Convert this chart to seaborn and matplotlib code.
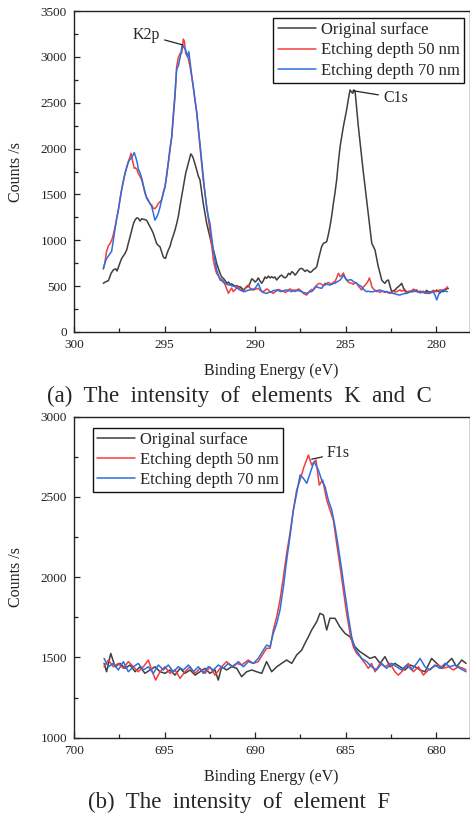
import numpy as np
import pandas as pd
import matplotlib
matplotlib.use("Agg")
import matplotlib.pyplot as plt
import seaborn as sns
from matplotlib.ticker import MultipleLocator

# ---------------- DATA: panel (a) K2p / C1s ----------------
series_names = ["Original surface", "Etching depth 50 nm", "Etching depth 70 nm"]

a_orig_E = [298.38, 298.25, 298.1, 297.95, 297.83, 297.7, 297.62, 297.45, 297.37, 297.18, 297.08, 297.0,
            296.9, 296.81, 296.72, 296.63, 296.53, 296.45, 296.35, 296.26, 296.15, 296.05, 295.98, 295.9,
            295.8, 295.7, 295.62, 295.53, 295.44, 295.35, 295.25, 295.15, 295.07, 295.0, 294.94, 294.87,
            294.79, 294.7, 294.6, 294.5, 294.42, 294.33, 294.24, 294.13, 294.02, 293.92, 293.83, 293.75,
            293.68, 293.6, 293.55, 293.48, 293.41, 293.3, 293.22, 293.13, 293.04, 292.95, 292.86, 292.76,
            292.67, 292.58, 292.49, 292.4, 292.3, 292.2, 292.12, 292.02, 291.93, 291.84, 291.75, 291.65,
            291.56, 291.47, 291.38, 291.3, 291.2, 291.1, 291.0, 290.92, 290.83, 290.74, 290.64, 290.55,
            290.46, 290.37, 290.28, 290.18, 290.09, 290.0, 289.91, 289.82, 289.72, 289.63, 289.54, 289.45,
            289.36, 289.26, 289.17, 289.08, 288.99, 288.9, 288.8, 288.71, 288.62, 288.53, 288.43, 288.34,
            288.25, 288.15, 288.06, 287.97, 287.88, 287.79, 287.7, 287.6, 287.51, 287.42, 287.33, 287.24,
            287.14, 287.05, 286.96, 286.87, 286.78, 286.69, 286.59, 286.5, 286.41, 286.32, 286.22, 286.13,
            286.04, 285.95, 285.86, 285.76, 285.67, 285.58, 285.49, 285.4, 285.3, 285.21, 285.12, 285.03,
            284.94, 284.85, 284.75, 284.68, 284.6, 284.53, 284.47, 284.38, 284.29, 284.2, 284.11, 284.02,
            283.92, 283.83, 283.74, 283.65, 283.55, 283.46, 283.37, 283.28, 283.19, 283.09, 283.0, 282.91,
            282.82, 282.72, 282.63, 282.54, 282.45, 282.36, 282.26, 282.17, 282.08, 281.99, 281.9, 281.8,
            281.71, 281.62, 281.53, 281.44, 281.35, 281.25, 281.16, 281.07, 280.98, 280.88, 280.79, 280.7,
            280.61, 280.52, 280.42, 280.33, 280.24, 280.15, 280.05, 279.96, 279.87, 279.78, 279.69, 279.59,
            279.5, 279.41, 279.32]
a_orig_C = [531, 548, 560, 640, 676, 690, 665, 760, 800, 858, 900, 967,
            1040, 1112, 1180, 1221, 1245, 1240, 1210, 1235, 1228, 1225, 1215, 1185,
            1148, 1110, 1076, 1020, 967, 945, 930, 870, 821, 805, 803, 850,
            894, 930, 1003, 1060, 1112, 1180, 1257, 1390, 1513, 1620, 1730, 1790,
            1840, 1900, 1941, 1925, 1894, 1820, 1767, 1700, 1658, 1530, 1403, 1290,
            1185, 1110, 1039, 960, 894, 820, 749, 690, 640, 600, 586, 560,
            531, 545, 520, 525, 512, 500, 505, 494, 494, 480, 458, 475,
            490, 494, 530, 580, 567, 545, 560, 590, 555, 531, 560, 600,
            585, 610, 590, 603, 590, 600, 567, 590, 610, 621, 600, 590,
            603, 640, 625, 658, 645, 620, 640, 670, 690, 694, 680, 660,
            676, 665, 650, 658, 680, 690, 712, 790, 858, 930, 967, 975,
            985, 1060, 1149, 1270, 1403, 1520, 1657, 1840, 2021, 2130, 2239, 2330,
            2421, 2530, 2639, 2620, 2603, 2640, 2621, 2430, 2239, 2070, 1912, 1750,
            1585, 1440, 1294, 1130, 967, 930, 894, 800, 712, 640, 567, 545,
            531, 560, 567, 500, 440, 450, 458, 480, 494, 510, 531, 480,
            455, 440, 430, 445, 440, 465, 450, 458, 435, 445, 430, 440,
            425, 455, 435, 440, 430, 450, 440, 458, 445, 425, 445, 440,
            455, 470, 476]

a_e50_E = [298.38, 298.3, 298.2, 298.1, 298.0, 297.92, 297.83, 297.73, 297.64, 297.55, 297.46, 297.37,
           297.28, 297.18, 297.09, 297.0, 296.92, 296.85, 296.76, 296.67, 296.6, 296.52, 296.45, 296.36,
           296.26, 296.17, 296.08, 295.99, 295.9, 295.8, 295.71, 295.62, 295.53, 295.44, 295.35, 295.25,
           295.16, 295.07, 294.97, 294.88, 294.79, 294.7, 294.6, 294.51, 294.42, 294.33, 294.24, 294.14,
           294.05, 293.96, 293.9, 293.83, 293.72, 293.59, 293.5, 293.41, 293.32, 293.22, 293.13, 293.04,
           292.95, 292.86, 292.76, 292.67, 292.58, 292.49, 292.4, 292.3, 292.21, 292.12, 292.02, 291.93,
           291.84, 291.75, 291.66, 291.56, 291.47, 291.38, 291.29, 291.2, 291.1, 291.01, 290.92, 290.83,
           290.73, 290.64, 290.55, 290.46, 290.37, 290.28, 290.18, 290.09, 290.0, 289.91, 289.82, 289.72,
           289.63, 289.54, 289.45, 289.35, 289.26, 289.17, 289.08, 288.99, 288.9, 288.8, 288.71, 288.62,
           288.53, 288.43, 288.34, 288.25, 288.15, 288.06, 287.97, 287.88, 287.79, 287.69, 287.6, 287.51,
           287.42, 287.32, 287.23, 287.14, 287.05, 286.96, 286.87, 286.78, 286.69, 286.59, 286.5, 286.41,
           286.32, 286.22, 286.13, 286.04, 285.95, 285.86, 285.76, 285.67, 285.58, 285.49, 285.39, 285.3,
           285.21, 285.12, 285.03, 284.94, 284.85, 284.75, 284.66, 284.57, 284.47, 284.38, 284.29, 284.2,
           284.11, 284.02, 283.92, 283.83, 283.74, 283.68, 283.6, 283.55, 283.46, 283.37, 283.28, 283.19,
           283.09, 283.0, 282.91, 282.82, 282.72, 282.63, 282.54, 282.45, 282.36, 282.26, 282.17, 282.08,
           281.99, 281.9, 281.8, 281.71, 281.62, 281.53, 281.44, 281.35, 281.25, 281.16, 281.07, 280.98,
           280.88, 280.79, 280.7, 280.61, 280.52, 280.42, 280.33, 280.24, 280.15, 280.05, 279.96, 279.87,
           279.78, 279.69, 279.59, 279.5, 279.41, 279.37]
a_e50_C = [694, 750, 880, 940, 967, 1000, 1060, 1148, 1240, 1330, 1450, 1549,
           1640, 1730, 1800, 1858, 1900, 1949, 1860, 1785, 1790, 1770, 1730, 1700,
           1658, 1590, 1513, 1470, 1440, 1400, 1385, 1350, 1345, 1366, 1400, 1420,
           1440, 1520, 1585, 1700, 1840, 1980, 2130, 2350, 2566, 2893, 2990, 3036,
           3040, 3193, 3170, 3036, 3010, 2894, 2790, 2673, 2530, 2384, 2200, 2020,
           1840, 1658, 1510, 1367, 1240, 1112, 960, 785, 700, 640, 610, 586,
           570, 567, 520, 470, 422, 450, 480, 440, 460, 480, 494, 470,
           450, 440, 470, 500, 512, 480, 460, 458, 465, 470, 476, 455,
           445, 440, 455, 470, 458, 440, 430, 421, 435, 450, 465, 458,
           445, 450, 430, 440, 460, 470, 455, 458, 440, 450, 470, 458,
           440, 420, 410, 403, 430, 450, 465, 458, 490, 510, 525, 531,
           520, 505, 512, 530, 540, 531, 520, 545, 549, 590, 640, 605,
           615, 643, 600, 567, 545, 535, 531, 520, 540, 531, 500, 480,
           458, 490, 510, 531, 560, 590, 540, 494, 470, 455, 440, 445,
           430, 445, 440, 430, 440, 425, 421, 430, 445, 435, 440, 450,
           460, 445, 458, 440, 430, 445, 440, 450, 465, 455, 458, 440,
           425, 440, 445, 430, 425, 420, 421, 440, 455, 445, 440, 450,
           460, 455, 458, 470, 480, 494]

a_e70_E = [298.38, 298.28, 298.2, 298.1, 298.0, 297.92, 297.83, 297.73, 297.64, 297.55, 297.46, 297.37,
           297.28, 297.18, 297.09, 297.0, 296.92, 296.85, 296.76, 296.67, 296.58, 296.5, 296.45, 296.36,
           296.26, 296.17, 296.08, 295.99, 295.9, 295.8, 295.71, 295.62, 295.53, 295.44, 295.35, 295.25,
           295.16, 295.07, 294.97, 294.88, 294.79, 294.7, 294.6, 294.51, 294.42, 294.33, 294.24, 294.14,
           294.02, 293.92, 293.83, 293.74, 293.66, 293.59, 293.5, 293.41, 293.32, 293.22, 293.13, 293.04,
           292.95, 292.86, 292.76, 292.67, 292.58, 292.49, 292.4, 292.3, 292.21, 292.12, 292.02, 291.93,
           291.84, 291.75, 291.66, 291.56, 291.47, 291.38, 291.29, 291.2, 291.1, 291.01, 290.92, 290.83,
           290.73, 290.64, 290.55, 290.46, 290.37, 290.28, 290.18, 290.09, 290.0, 289.91, 289.82, 289.72,
           289.63, 289.54, 289.45, 289.36, 289.26, 289.17, 289.08, 288.99, 288.9, 288.8, 288.71, 288.62,
           288.53, 288.43, 288.34, 288.25, 288.15, 288.06, 287.97, 287.88, 287.79, 287.7, 287.6, 287.51,
           287.42, 287.32, 287.23, 287.14, 287.05, 286.96, 286.87, 286.78, 286.69, 286.59, 286.5, 286.41,
           286.32, 286.22, 286.13, 286.04, 285.95, 285.86, 285.76, 285.67, 285.58, 285.49, 285.39, 285.3,
           285.21, 285.12, 285.03, 284.94, 284.85, 284.75, 284.66, 284.57, 284.47, 284.38, 284.29, 284.2,
           284.11, 284.02, 283.92, 283.83, 283.74, 283.65, 283.55, 283.46, 283.37, 283.28, 283.19, 283.09,
           283.0, 282.91, 282.82, 282.72, 282.63, 282.54, 282.45, 282.36, 282.26, 282.17, 282.08, 281.99,
           281.9, 281.8, 281.71, 281.62, 281.53, 281.44, 281.35, 281.25, 281.16, 281.07, 280.98, 280.88,
           280.79, 280.7, 280.61, 280.52, 280.42, 280.33, 280.24, 280.15, 280.05, 279.96, 279.87, 279.78,
           279.69, 279.59, 279.5, 279.41, 279.37]
a_e70_C = [686, 760, 800, 830, 858, 880, 1000, 1130, 1240, 1330, 1440, 1549,
           1640, 1730, 1790, 1850, 1880, 1890, 1920, 1957, 1900, 1840, 1780, 1740,
           1680, 1600, 1530, 1460, 1430, 1400, 1370, 1300, 1220, 1250, 1290, 1360,
           1440, 1510, 1585, 1720, 1850, 2000, 2130, 2380, 2600, 2860, 2900, 2990,
           3130, 3100, 3076, 3000, 3057, 2950, 2800, 2673, 2540, 2400, 2220, 2050,
           1880, 1700, 1500, 1360, 1260, 1185, 1040, 894, 780, 676, 620, 567,
           560, 540, 531, 520, 513, 512, 505, 500, 494, 480, 470, 458,
           450, 445, 440, 450, 455, 458, 470, 465, 476, 500, 531, 480,
           440, 430, 425, 421, 430, 435, 440, 450, 455, 458, 450, 445,
           440, 450, 455, 458, 450, 445, 440, 450, 455, 458, 450, 445,
           440, 430, 425, 421, 430, 440, 440, 460, 480, 494, 485, 480,
           476, 505, 531, 520, 515, 512, 520, 530, 531, 545, 555, 567,
           590, 621, 590, 567, 565, 570, 567, 550, 540, 531, 515, 505,
           494, 470, 450, 440, 445, 440, 438, 440, 445, 450, 455, 458,
           450, 445, 440, 440, 435, 430, 425, 421, 415, 410, 405, 403,
           410, 415, 420, 421, 430, 435, 440, 440, 445, 440, 435, 440,
           435, 430, 425, 421, 430, 435, 440, 440, 400, 349, 400, 440,
           450, 458, 450, 440, 440]

# ---------------- DATA: panel (b) F1s ----------------
b_orig_E = [698.34, 698.2, 697.97, 697.73, 697.46, 697.18, 696.9, 696.63, 696.35, 696.08, 695.8, 695.52,
            695.25, 694.97, 694.7, 694.42, 694.14, 693.87, 693.59, 693.31, 693.04, 692.76, 692.49, 692.21,
            692.03, 691.84, 691.57, 691.29, 691.01, 690.74, 690.46, 690.18, 689.91, 689.63, 689.36, 689.08,
            688.8, 688.53, 688.25, 687.97, 687.7, 687.42, 687.24, 687.05, 686.87, 686.59, 686.41, 686.22,
            686.04, 685.86, 685.58, 685.32, 685.03, 684.75, 684.48, 684.2, 683.92, 683.65, 683.37, 683.09,
            682.82, 682.54, 682.27, 681.99, 681.71, 681.44, 681.16, 680.88, 680.61, 680.24, 679.96, 679.69,
            679.41, 679.13, 678.86, 678.58, 678.34]
b_orig_C = [1463, 1411, 1525, 1442, 1463, 1432, 1453, 1411, 1442, 1401, 1422, 1442,
            1411, 1401, 1422, 1390, 1432, 1401, 1422, 1390, 1411, 1432, 1401, 1422,
            1359, 1442, 1422, 1442, 1432, 1380, 1411, 1422, 1411, 1401, 1474, 1411,
            1442, 1463, 1484, 1463, 1515, 1546, 1588, 1629, 1671, 1723, 1775, 1764,
            1671, 1744, 1744, 1692, 1650, 1629, 1567, 1536, 1515, 1494, 1505, 1463,
            1505, 1442, 1463, 1442, 1422, 1453, 1442, 1422, 1411, 1494, 1463, 1432,
            1463, 1494, 1442, 1484, 1463]

b_e50_E = [698.34, 698.1, 697.83, 697.55, 697.27, 697.0, 696.72, 696.45, 696.17, 695.89, 695.71, 695.49,
           695.25, 694.97, 694.7, 694.42, 694.14, 693.87, 693.59, 693.31, 693.04, 692.76, 692.49, 692.21,
           691.93, 691.57, 691.29, 691.01, 690.74, 690.37, 690.09, 689.82, 689.54, 689.36, 689.17, 688.99,
           688.8, 688.62, 688.43, 688.25, 688.07, 687.88, 687.7, 687.51, 687.29, 687.05, 686.87, 686.63,
           686.45, 686.26, 686.04, 685.86, 685.67, 685.49, 685.3, 685.12, 684.94, 684.75, 684.57, 684.38,
           684.2, 683.92, 683.74, 683.56, 683.37, 683.09, 682.82, 682.54, 682.27, 682.08, 681.8, 681.53,
           681.25, 680.97, 680.7, 680.42, 680.15, 679.87, 679.6, 679.32, 679.04, 678.77, 678.49, 678.34]
b_e50_C = [1442, 1484, 1442, 1463, 1432, 1474, 1442, 1411, 1442, 1484, 1422, 1359,
           1411, 1442, 1401, 1422, 1370, 1411, 1442, 1401, 1432, 1401, 1442, 1390,
           1432, 1474, 1442, 1463, 1453, 1484, 1463, 1474, 1525, 1557, 1557, 1671,
           1754, 1858, 2003, 2149, 2273, 2419, 2543, 2606, 2689, 2761, 2699, 2730,
           2574, 2606, 2481, 2419, 2356, 2211, 2066, 1920, 1775, 1650, 1567, 1525,
           1505, 1463, 1432, 1463, 1411, 1463, 1442, 1463, 1411, 1390, 1422, 1463,
           1411, 1442, 1390, 1422, 1442, 1453, 1432, 1442, 1422, 1442, 1432, 1422]

b_e70_E = [698.34, 698.1, 697.83, 697.55, 697.27, 697.0, 696.72, 696.45, 696.17, 695.89, 695.62, 695.34,
           695.06, 694.79, 694.51, 694.24, 693.96, 693.68, 693.41, 693.13, 692.85, 692.58, 692.3, 692.03,
           691.75, 691.47, 691.2, 690.92, 690.64, 690.37, 690.09, 689.82, 689.54, 689.36, 689.17, 688.99,
           688.8, 688.62, 688.43, 688.25, 688.07, 687.88, 687.7, 687.51, 687.33, 687.14, 686.96, 686.74,
           686.5, 686.32, 686.13, 685.95, 685.76, 685.58, 685.4, 685.21, 685.03, 684.84, 684.66, 684.48,
           684.29, 684.11, 683.83, 683.56, 683.28, 683.0, 682.73, 682.45, 682.18, 681.9, 681.62, 681.34,
           681.07, 680.88, 680.61, 680.33, 680.06, 679.78, 679.5, 679.23, 678.95, 678.68, 678.34]
b_e70_C = [1494, 1442, 1463, 1422, 1474, 1411, 1442, 1463, 1422, 1442, 1401, 1453,
           1422, 1453, 1411, 1442, 1422, 1453, 1411, 1442, 1401, 1442, 1422, 1453,
           1432, 1463, 1442, 1474, 1442, 1474, 1463, 1494, 1546, 1577, 1567, 1650,
           1712, 1796, 1941, 2107, 2252, 2419, 2522, 2637, 2617, 2585, 2647, 2720,
           2668, 2606, 2564, 2481, 2419, 2315, 2190, 2045, 1899, 1754, 1629, 1557,
           1525, 1494, 1474, 1442, 1422, 1463, 1432, 1463, 1442, 1422, 1453, 1422,
           1463, 1494, 1442, 1422, 1453, 1432, 1463, 1442, 1453, 1432, 1411]

colors = ["#3f3f3f", "#f23d3d", "#2c6fdc"]

# ---------------- build long-form tables ----------------
def long_df(E_lists, C_lists):
    parts = []
    for name, E, C in zip(series_names, E_lists, C_lists):
        parts.append(pd.DataFrame({"E": E, "C": C, "Series": name}))
    return pd.concat(parts, ignore_index=True)

df_a = long_df([a_orig_E, a_e50_E, a_e70_E], [a_orig_C, a_e50_C, a_e70_C])
df_b = long_df([b_orig_E, b_e50_E, b_e70_E], [b_orig_C, b_e50_C, b_e70_C])

sns.set_style("ticks")
plt.rcParams["font.family"] = ["Liberation Serif", "DejaVu Serif"]
plt.rcParams["mathtext.fontset"] = "stix"

W, H = 470, 816
fig = plt.figure(figsize=(W / 100, H / 100), dpi=100)
ax_a = fig.add_axes([74 / W, 1 - 332 / H, 395.5 / W, 321 / H])
ax_b = fig.add_axes([74 / W, 1 - 737.7 / H, 395.5 / W, 321 / H])

palette = dict(zip(series_names, colors))

for ax, df in [(ax_a, df_a), (ax_b, df_b)]:
    sns.lineplot(data=df, x="E", y="C", hue="Series", palette=palette, hue_order=series_names,
                 estimator=None, sort=False, linewidth=1.1, ax=ax)

def style_axis(ax, xlim, ylim, ymaj):
    ax.set_xlim(*xlim)
    ax.set_ylim(*ylim)
    ax.xaxis.set_major_locator(MultipleLocator(5))
    ax.xaxis.set_minor_locator(MultipleLocator(2.5))
    ax.yaxis.set_major_locator(MultipleLocator(ymaj))
    ax.yaxis.set_minor_locator(MultipleLocator(ymaj / 2))
    ax.tick_params(which="both", direction="in", top=False, right=False, colors="#222222",
                   labelsize=9.5, width=0.9)
    ax.tick_params(which="major", length=4, pad=5)
    ax.tick_params(which="minor", length=3)
    for s in ax.spines.values():
        s.set_visible(True)
        s.set_color("#222222")
        s.set_linewidth(1.0)
    ax.set_xlabel("Binding Energy (eV)", fontsize=11.5, labelpad=9, color="#222222")
    ax.set_ylabel("Counts /s", fontsize=11.5, labelpad=12, color="#222222")

style_axis(ax_a, (300, 278.15), (0, 3500), 500)
style_axis(ax_b, (700, 678.15), (1000, 3000), 500)

def make_legend(ax, loc, anchor):
    handles, labels = ax.get_legend_handles_labels()
    leg = ax.legend(handles, labels, loc=loc, bbox_to_anchor=anchor, fontsize=12,
                    frameon=True, fancybox=False, framealpha=1, edgecolor="#111111",
                    handlelength=2.3, handletextpad=0.3, labelspacing=0.25,
                    borderpad=0.25, borderaxespad=0)
    leg.get_frame().set_linewidth(1.0)
    for line in leg.get_lines():
        line.set_linewidth(1.1)

make_legend(ax_a, "upper right", (0.986, 0.978))
make_legend(ax_b, "upper left", (0.047, 0.966))

arrow = dict(arrowstyle="-", color="#222222", lw=0.9, shrinkA=1, shrinkB=0)
ax_a.annotate("K2p", xy=(293.99, 3130), xytext=(295.25, 3239), ha="right", va="center",
              fontsize=11.5, arrowprops=arrow)
ax_a.annotate("C1s", xy=(284.59, 2631), xytext=(282.93, 2555), ha="left", va="center",
              fontsize=11.5, arrowprops=arrow)
ax_b.annotate("F1s", xy=(686.87, 2735), xytext=(686.02, 2772), ha="left", va="center",
              fontsize=11.5, arrowprops=arrow)

fig.text(239 / W, 1 - 401.7 / H, "(a)  The  intensity  of  elements  K  and  C", ha="center",
         va="baseline", fontsize=16.5)
fig.text(239.5 / W, 1 - 808 / H, "(b)  The  intensity  of  element  F", ha="center",
         va="baseline", fontsize=16.5)

fig.savefig("out.png", dpi=100, facecolor="white")
